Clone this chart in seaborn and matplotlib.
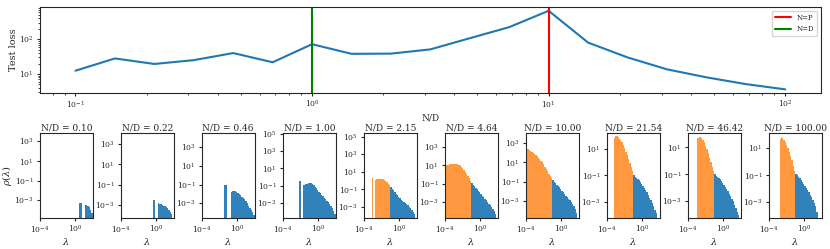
import numpy as np
import pandas as pd
import matplotlib
matplotlib.use("Agg")
import matplotlib.pyplot as plt
import seaborn as sns
from matplotlib.ticker import NullLocator

# --- top panel: test loss against N/D ---
nd_curve = [0.1, 0.1468, 0.2154, 0.3162, 0.4642, 0.6813, 1.0, 1.468, 2.154, 3.162,
            4.642, 6.813, 10.0, 14.68, 21.54, 31.62, 46.42, 68.13, 100.0]
test_loss = [12.4, 28, 19.4, 25, 40, 21.7, 72, 38, 38.5, 51,
             107, 223, 660, 80, 30, 13.6, 8.0, 5.1, 3.6]
nd_interp = 1.0    # N=D
nd_params = 10.0   # N=P

# --- bottom row: eigenvalue densities, log10(rho) per log-spaced bin ---
nd_panels = [0.10, 0.22, 0.46, 1.00, 2.15, 4.64, 10.00, 21.54, 46.42, 100.00]
log_lam_range = (-4, 2)
n_bins = 40
split_lam = 0.1   # bulk (orange) below this, only drawn when N/D > 1

first_bin = [30, 24, 17, 12, 6, 0, 0, 5, 7, 8]
rho_010 = [-3.28, -3.28, None, None, -3.5, -3.45, -3.55, -3.7, -3.95, -4.3]
rho_022 = [-2.5, -2.5, None, None, -2.8, -2.85, -2.9, -2.95, -3.05, -3.1, -3.2, -3.3,
           -3.5, -3.7, -3.9]
rho_046 = [-1.03, -1.03, None, None, None, -1.78, -1.66, -1.64, -1.65, -1.75, -1.85,
           -2.0, -2.15, -2.28, -2.43, -2.58, -2.8, -3.02, -3.25, -3.45, -3.7, -3.95, -4.2]
rho_100 = [-0.42, -0.42, None, -0.93, -0.85, -0.8, -0.75, -0.7, -0.7, -0.72, -0.8,
           -0.95, -1.13, -1.3, -1.5, -1.68, -1.85, -2.02, -2.2, -2.35, -2.5, -2.7,
           -2.9, -3.1, -3.32, -3.55, -3.85, -4.2]
rho_215 = [0.31, None, 0.1, 0.15, 0.2, 0.2, 0.2, 0.17, 0.13, 0.05, -0.05, -0.2, -0.35,
           -0.5, -0.72, -0.92, -1.1, -1.3, -1.5, -1.7, -1.9, -2.05, -2.2, -2.35, -2.5,
           -2.6, -2.72, -2.85, -3.0, -3.2, -3.4, -3.6, -3.85]
rho_464 = [1.0, 1.03, 1.07, 1.1, 1.13, 1.15, 1.16, 1.17, 1.15, 1.12, 1.07, 0.98, 0.86,
           0.7, 0.52, 0.32, 0.08, -0.18, -0.43, -0.68, -0.9, -1.08, -1.25, -1.42,
           -1.59, -1.76, -1.93, -2.1, -2.28, -2.46, -2.63, -2.8, -2.97, -3.13, -3.3,
           -3.5, -3.72, -3.98, -4.3]
rho_1000 = [2.4, 2.35, 2.27, 2.2, 2.1, 2.02, 1.9, 1.76, 1.62, 1.48, 1.35, 1.18, 1.0,
            0.8, 0.58, 0.35, 0.1, -0.15, -0.4, -0.65, -0.85, -0.98, -1.13, -1.28,
            -1.43, -1.58, -1.73, -1.9, -2.07, -2.25, -2.41, -2.57, -2.74, -2.9, -3.07,
            -3.3, -3.52, -3.8, -4.2]
rho_2154 = [1.82, 1.93, 1.92, 1.85, 1.76, 1.65, 1.47, 1.25, 1.02, 0.78, 0.53, 0.25,
            -0.05, -0.35, -0.7, -1.0, -1.12, -1.2, -1.26, -1.35, -1.48, -1.63, -1.78,
            -1.93, -2.08, -2.27, -2.47, -2.67, -2.86, -3.05, -3.3, -3.58, -3.85]
rho_4642 = [1.7, 1.76, 1.74, 1.66, 1.53, 1.36, 1.12, 0.86, 0.56, 0.22, -0.12, -0.45,
            -0.75, -1.0, -1.1, -1.2, -1.28, -1.37, -1.5, -1.65, -1.8, -1.95, -2.1,
            -2.27, -2.45, -2.62, -2.8, -3.0, -3.25, -3.52, -3.8, -4.0]
rho_10000 = [1.68, 1.8, 1.74, 1.62, 1.45, 1.25, 1.0, 0.72, 0.42, 0.08, -0.3, -0.7,
             -0.9, -1.0, -1.12, -1.22, -1.35, -1.5, -1.65, -1.8, -1.95, -2.1, -2.27,
             -2.44, -2.62, -2.82, -3.05, -3.3, -3.7]
log_rho = [rho_010, rho_022, rho_046, rho_100, rho_215, rho_464, rho_1000,
           rho_2154, rho_4642, rho_10000]

# y limits (log10)
y_lo = [-4.75, -4.2, -4.52, -4.64, -4.23, -4.64, -4.67, -4.17, -4.2, -4.12]
y_hi = [3.85, 4.08, 4.53, 5.08, 5.42, 4.48, 4.03, 2.18, 2.06, 2.1]

sns.set_style("ticks")
plt.rcParams['font.family'] = ['DejaVu Serif']
plt.rcParams['mathtext.fontset'] = 'dejavuserif'
plt.rcParams['xtick.labelsize'] = 5.5
plt.rcParams['ytick.labelsize'] = 5.5
plt.rcParams['xtick.major.size'] = 2.5
plt.rcParams['ytick.major.size'] = 2.5
plt.rcParams['xtick.minor.size'] = 1.5
plt.rcParams['ytick.minor.size'] = 1.5
plt.rcParams['xtick.major.pad'] = 2
plt.rcParams['ytick.major.pad'] = 2

W, H = 830, 249
fig = plt.figure(figsize=(W / 100, H / 100), dpi=100)

# top axes
ax_top = fig.add_axes([40 / W, 1 - 92.7 / H, 780.7 / W, 85.4 / H])
sns.lineplot(x=nd_curve, y=test_loss, ax=ax_top, color='tab:blue', linewidth=1.5)
ax_top.axvline(nd_params, color='red', linewidth=1.5, label='N=P')
ax_top.axvline(nd_interp, color='green', linewidth=1.5, label='N=D')
ax_top.set_xscale('log')
ax_top.set_yscale('log')
ax_top.set_xlim(10 ** -1.15, 10 ** 2.15)
ax_top.set_ylim(10 ** 0.46, 10 ** 2.92)
ax_top.set_xlabel('N/D', fontsize=6.5, labelpad=2)
ax_top.set_ylabel('Test loss', fontsize=7, labelpad=1)
ax_top.legend(loc='upper right', fontsize=5, handlelength=2.4)

# bottom row of spectra
orange = '#ff7f0e'
blue = '#1f77b4'
for i, nd in enumerate(nd_panels):
    ax = fig.add_axes([(40 + 81 * i) / W, 1 - 217.5 / H, 52.5 / W, 84.5 / H])
    vals = log_rho[i]
    bw = (log_lam_range[1] - log_lam_range[0]) / n_bins
    rows = []
    for k, v in enumerate(vals):
        if v is None:
            continue
        b = first_bin[i] + k
        lam = 10 ** (log_lam_range[0] + bw * (b + 0.5))
        part = 'bulk' if (nd > 1 and lam < split_lam) else 'tail'
        rows.append((lam, 10 ** v, part))
    df = pd.DataFrame(rows, columns=['lam', 'rho', 'part'])
    for part, col, a in [('bulk', orange, 0.8), ('tail', blue, 0.92)]:
        sub = df[df['part'] == part]
        if len(sub) == 0:
            continue
        sns.histplot(data=sub, x='lam', weights='rho', bins=n_bins,
                     binrange=log_lam_range, log_scale=(True, False),
                     color=col, alpha=a, linewidth=0, ax=ax)
    ax.set_yscale('log')
    ax.set_xticks([1e-4, 1e0])
    ax.xaxis.set_minor_locator(NullLocator())
    ax.set_yticks([1e-3, 1e-1, 1e1, 1e3, 1e5])
    ax.yaxis.set_minor_locator(NullLocator())
    ax.set_xlim(1e-4, 1e2)
    ax.set_ylim(10 ** y_lo[i], 10 ** y_hi[i])
    ax.set_title(f'N/D = {nd:.2f}', fontsize=6.5, pad=2)
    ax.set_xlabel(r'$\lambda$', fontsize=7, labelpad=1)
    if i == 0:
        ax.set_ylabel(r'$\rho(\lambda)$', fontsize=7, labelpad=0)
    else:
        ax.set_ylabel('')

fig.savefig('out.png', dpi=100)
